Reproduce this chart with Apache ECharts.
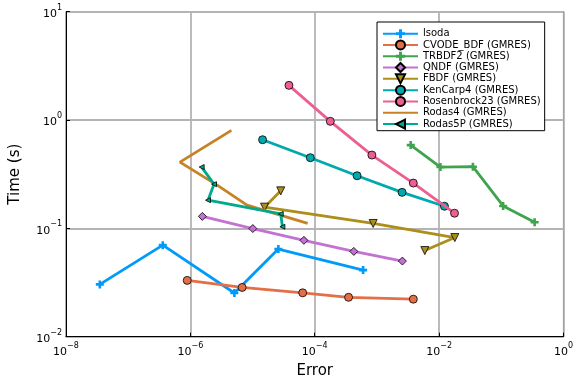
<!DOCTYPE html>
<html><head><meta charset="utf-8">
<script src="https://cdn.jsdelivr.net/npm/echarts@6/dist/echarts.min.js"></script>
<style>html,body{margin:0;padding:0;background:#fff}#c{width:576px;height:384px}</style>
</head><body><div id="c"></div><script>
// Data (error, time)
const seriesNames = ['lsoda','CVODE_BDF (GMRES)','TRBDF2 (GMRES)','QNDF (GMRES)','FBDF (GMRES)','KenCarp4 (GMRES)','Rosenbrock23 (GMRES)','Rodas4 (GMRES)','Rodas5P (GMRES)'];
const lsodaErr = [3.5e-8, 3.6e-7, 5.1e-6, 2.6e-5, 6.0e-4];
const lsodaTime = [0.0304, 0.070, 0.0253, 0.0644, 0.0412];
const cvodeErr = [8.9e-7, 6.8e-6, 6.4e-5, 3.5e-4, 3.85e-3];
const cvodeTime = [0.0331, 0.0285, 0.0254, 0.0231, 0.0222];
const trbdf2Err = [3.5e-3, 1.05e-2, 3.5e-2, 0.107, 0.344];
const trbdf2Time = [0.587, 0.368, 0.371, 0.161, 0.114];
const qndfErr = [1.56e-6, 1.01e-5, 6.7e-5, 4.25e-4, 2.57e-3];
const qndfTime = [0.129, 0.0996, 0.0775, 0.0613, 0.0499];
const fbdfErr = [2.84e-5, 1.56e-5, 8.7e-4, 1.79e-2, 5.9e-3];
const fbdfTime = [0.222, 0.157, 0.111, 0.0822, 0.0624];
const kenErr = [1.45e-5, 8.5e-5, 4.8e-4, 2.54e-3, 1.22e-2];
const kenTime = [0.658, 0.449, 0.306, 0.215, 0.160];
const rosErr = [3.85e-5, 1.78e-4, 8.3e-4, 3.85e-3, 1.77e-2];
const rosTime = [2.09, 0.973, 0.475, 0.262, 0.138];
const rodas4Err = [4.57e-6, 6.8e-7, 2.7e-6, 8.15e-6, 7.7e-5];
const rodas4Time = [0.803, 0.409, 0.251, 0.164, 0.111];
const rodas5Err = [1.52e-6, 2.4e-6, 1.92e-6, 2.84e-5, 3.02e-5];
const rodas5Time = [0.368, 0.256, 0.182, 0.136, 0.1035];

const colors = ['#009AFA','#E36F47','#3EA44E','#C371D2','#AC8E18','#00A9AD','#ED5E93','#C68225','#00A98D'];
const CROSS = 'path://M2.7,0H5.3V2.7H8V5.3H5.3V8H2.7V5.3H0V2.7H2.7Z';
const FONT = 'DejaVu Sans';

function pairs(xs, ys){ return xs.map((x,i)=>[x, ys[i]]); }
function mk(i, xs, ys, symbol, size, rotate, border){
  return {
    name: seriesNames[i], type:'line', data: pairs(xs, ys),
    symbol: symbol, symbolSize: size, symbolRotate: rotate || 0, showSymbol: symbol !== 'none',
    color: colors[i],
    lineStyle:{color: colors[i], width: 2.8},
    itemStyle:{color: colors[i], borderColor: border ? '#000' : colors[i], borderWidth: border ? 0.8 : 0},
    emphasis:{disabled:true}, animation:false, z: 2 + i
  };
}
const series = [
  mk(0, lsodaErr, lsodaTime, CROSS, 8, 0, false),
  mk(1, cvodeErr, cvodeTime, 'circle', 8, 0, true),
  mk(2, trbdf2Err, trbdf2Time, CROSS, 8, 0, false),
  mk(3, qndfErr, qndfTime, 'diamond', 8, 0, true),
  mk(4, fbdfErr, fbdfTime, 'triangle', 8, 180, true),
  mk(5, kenErr, kenTime, 'circle', 8, 0, true),
  mk(6, rosErr, rosTime, 'circle', 8, 0, true),
  mk(7, rodas4Err, rodas4Time, 'none', 0, 0, false),
  mk(8, rodas5Err, rodas5Time, 'triangle', 5, 90, true)
];

function powLabel(v){
  const e = Math.round(Math.log10(v));
  const s = e < 0 ? '\u2212' + (-e) : String(e);
  return '{b|10}{s|' + s + '}';
}
const rich = {
  b:{fontFamily:FONT, fontSize:11, color:'#000', lineHeight:16, verticalAlign:'bottom'},
  s:{fontFamily:FONT, fontSize:8, color:'#000', lineHeight:16, verticalAlign:'top'}
};
const gridLine = {show:true, lineStyle:{color:'#b4b4b4', width:1.8}};

const chart = echarts.init(document.getElementById('c'), null, {renderer:'canvas'});
chart.setOption({
  backgroundColor:'#fff',
  animation:false,
  grid:{left:62.5, right:12, top:11.7, bottom:47.3, show:true, borderColor:'#000', borderWidth:1, backgroundColor:'#fff'},
  xAxis:{
    type:'log', logBase:10, min:1e-8, max:1, interval:2,
    name:'Error', nameLocation:'middle', nameGap:27,
    nameTextStyle:{fontFamily:FONT, fontSize:15, color:'#000'},
    axisLine:{show:true, onZero:false, lineStyle:{color:'#000', width:1}},
    axisTick:{show:true, inside:true, length:4, lineStyle:{color:'#000'}},
    minorTick:{show:false},
    axisLabel:{formatter:powLabel, rich:rich, margin:5, color:'#000'},
    splitLine:gridLine
  },
  yAxis:{
    type:'log', logBase:10, min:0.01, max:10, interval:1,
    name:'Time (s)', nameLocation:'middle', nameGap:43, nameRotate:90,
    nameTextStyle:{fontFamily:FONT, fontSize:15, color:'#000'},
    axisLine:{show:true, onZero:false, lineStyle:{color:'#000', width:1}},
    axisTick:{show:true, inside:true, length:4, lineStyle:{color:'#000'}},
    axisLabel:{formatter:powLabel, rich:rich, margin:4, color:'#000'},
    splitLine:gridLine
  },
  legend:{
    orient:'vertical', left:377, top:22,
    backgroundColor:'#fff', borderColor:'#000', borderWidth:1,
    padding:[6,4,1,5],
    itemWidth:35, itemHeight:11.3, itemGap:0,
    textStyle:{fontFamily:FONT, fontSize:10, color:'#000', lineHeight:11.3},
    data: seriesNames.map((n,i)=> i===7 ? {name:n, itemStyle:{opacity:0}} : {name:n})
  },
  series: series
});
</script></body></html>
